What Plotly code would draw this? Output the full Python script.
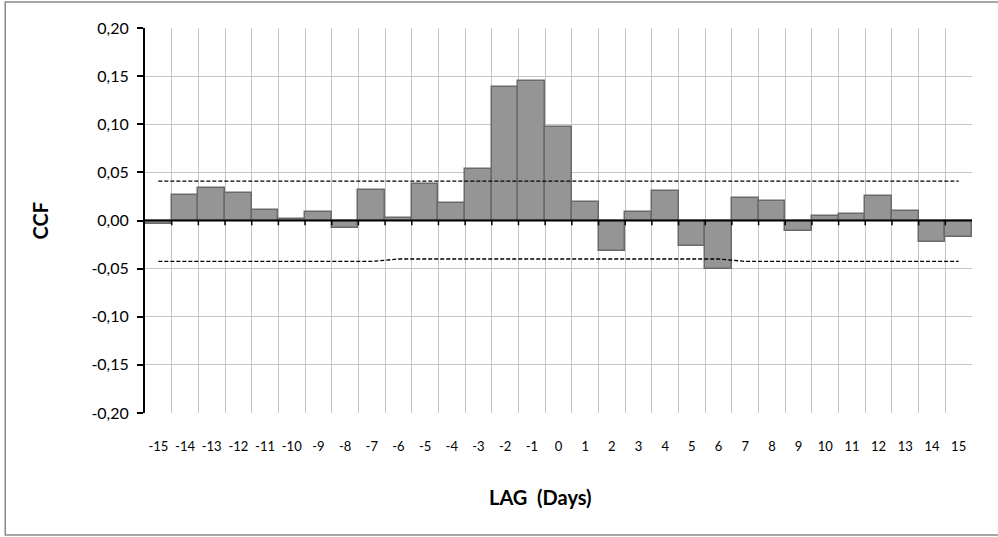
import plotly.graph_objects as go

lags = list(range(-15, 16))
ccf = [-0.004, 0.027, 0.034, 0.029, 0.011, 0.002, 0.009, -0.008, 0.032, 0.003,
       0.038, 0.018, 0.053, 0.139, 0.145, 0.097, 0.019, -0.032, 0.009, 0.031,
       -0.026, -0.050, 0.023, 0.020, -0.011, 0.005, 0.007, 0.025, 0.010, -0.022, -0.017]
upper = [0.041] * 31
lower = [-0.0425] * 9 + [-0.040] * 13 + [-0.0425] * 9
y_ticks = [-0.20, -0.15, -0.10, -0.05, 0.00, 0.05, 0.10, 0.15, 0.20]
y_ticktext = [("%.2f" % v).replace(".", ",") for v in y_ticks]

FONT = "Lato, Open Sans, sans-serif"

fig = go.Figure()
fig.add_trace(go.Bar(
    x=lags, y=ccf, width=1,
    marker=dict(color="#959595", line=dict(color="#6a6a6a", width=1.5)),
    showlegend=False, hoverinfo="x+y",
))
fig.add_trace(go.Scatter(x=lags, y=upper, mode="lines",
                         line=dict(color="black", width=1.3, dash="4px,2px"), showlegend=False))
fig.add_trace(go.Scatter(x=lags, y=lower, mode="lines",
                         line=dict(color="black", width=1.3, dash="4px,2px"), showlegend=False))

shapes = []
shapes.append(dict(type="line", xref="x", yref="y", x0=lags[0] - 0.5, x1=lags[-1] + 0.5,
                   y0=0, y1=0, line=dict(color="black", width=2.2), layer="above"))
for b in [l + 0.5 for l in lags[:-1]]:
    shapes.append(dict(type="line", xref="x", yref="y", x0=b, x1=b, y0=0, y1=-0.005,
                       line=dict(color="black", width=1.5), layer="above"))
shapes.append(dict(type="rect", xref="paper", yref="paper", x0=-0.169, x1=1.2,
                   y0=-0.317, y1=1.0675, line=dict(color="#8a8a8a", width=1.5),
                   fillcolor="rgba(0,0,0,0)"))

fig.update_layout(
    width=998, height=537,
    margin=dict(l=145, r=26, t=28, b=124),
    paper_bgcolor="white", plot_bgcolor="white",
    bargap=0,
    font=dict(family=FONT, color="black"),
    shapes=shapes,
    annotations=[
        dict(text="<b>CCF</b>", xref="paper", yref="paper", x=-0.127, y=0.5,
             textangle=-90, showarrow=False, font=dict(size=20, family=FONT),
             xanchor="center", yanchor="middle"),
        dict(text="<b>LAG  (Days)</b>", xref="paper", yref="paper", x=0.478, y=-0.218,
             showarrow=False, font=dict(size=20, family=FONT),
             xanchor="center", yanchor="middle"),
    ],
)
fig.update_xaxes(
    range=[lags[0] - 0.5, lags[-1] + 0.5],
    tickvals=lags, ticktext=[str(l) for l in lags],
    showgrid=False, zeroline=False, showline=False,
    ticks="outside", ticklen=21, tickcolor="rgba(0,0,0,0)",
    tickfont=dict(size=13, family=FONT),
    minor=dict(showgrid=True, tick0=0.5, dtick=1, gridcolor="#c4c4c4", gridwidth=1.3, ticks=""),
)
fig.update_yaxes(
    range=[-0.20, 0.20], tickvals=y_ticks, ticktext=y_ticktext,
    showgrid=True, gridcolor="#c4c4c4", gridwidth=1.3,
    zeroline=False, showline=True, linecolor="black", linewidth=2,
    ticks="outside", ticklen=6, tickcolor="black", tickwidth=1.5,
    ticklabelstandoff=5,
    tickfont=dict(size=16, family=FONT),
)

fig.write_html("out.html", config={"displayModeBar": False},
               post_script="document.body.style.margin='0';document.body.style.overflow='hidden';")
